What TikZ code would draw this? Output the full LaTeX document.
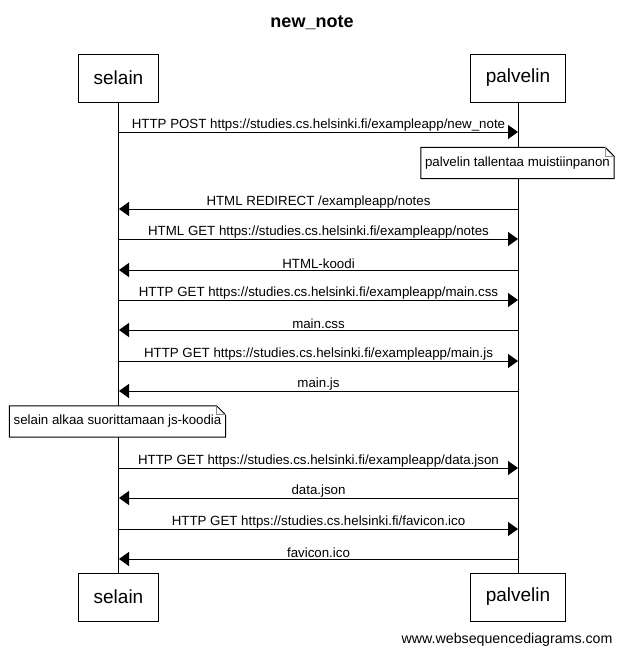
\documentclass[tikz,border=0pt]{standalone}
\usepackage{fontspec}
\setmainfont{Liberation Sans}
\usetikzlibrary{arrows.meta}

\tikzset{
  actor/.style={draw, line width=1pt, fill=white, minimum height=48pt,
    inner xsep=15pt, font=\fontsize{19}{22}\selectfont},
  lifeline/.style={line width=1pt},
  msg/.style={line width=1pt, -{Triangle[length=10pt,width=14pt]}},
  msglabel/.style={midway, above, inner sep=0.5pt, font=\fontsize{13.3}{15}\selectfont},
  notetext/.style={minimum height=31pt, inner xsep=4pt, font=\fontsize{13.3}{15}\selectfont},
  notebox/.style={draw, line width=1pt, fill=white},
  fold/.style={draw=black!45, line width=0.8pt}
}

\begin{document}
\begin{tikzpicture}[x=1pt,y=-1pt]

    \useasboundingbox (0,0) rectangle (624,656);

    % otsikko
    \node[font=\bfseries\fontsize{18}{20}\selectfont] (title) at (312,23) {new\_note};

    % osapuolet ylhaalla
    \node[actor] (selaintop) at (118.5,78) {selain};
    \node[actor] (palvelintop) at (518,78) {palvelin};

    % osapuolet alhaalla
    \node[actor] (selainbot) at (118.5,597) {selain};
    \node[actor] (palvelinbot) at (518,597) {palvelin};

    % elamanlangat
    \draw[lifeline] (selaintop.south) -- (selainbot.north);
    \draw[lifeline] (palvelintop.south) -- (palvelinbot.north);

    % pisteet elamanlangoilla
    \coordinate (s1) at (119,132);   \coordinate (p1) at (518,132);
    \coordinate (s2) at (119,209);   \coordinate (p2) at (518,209);
    \coordinate (s3) at (119,239);   \coordinate (p3) at (518,239);
    \coordinate (s4) at (119,270);   \coordinate (p4) at (518,270);
    \coordinate (s5) at (119,300);   \coordinate (p5) at (518,300);
    \coordinate (s6) at (119,330);   \coordinate (p6) at (518,330);
    \coordinate (s7) at (119,361);   \coordinate (p7) at (518,361);
    \coordinate (s8) at (119,391);   \coordinate (p8) at (518,391);
    \coordinate (s9) at (119,468);   \coordinate (p9) at (518,468);
    \coordinate (s10) at (119,498);  \coordinate (p10) at (518,498);
    \coordinate (s11) at (119,529);  \coordinate (p11) at (518,529);
    \coordinate (s12) at (119,559);  \coordinate (p12) at (518,559);

    % viestit
    \draw[msg] (s1) -- (p1) node[msglabel] {HTTP POST https://studies.cs.helsinki.fi/exampleapp/new\_note};

    % muistiinpano palvelimella
    \node[notetext] (note1) at (517.5,163) {palvelin tallentaa muistiinpanon};
    \draw[notebox] (note1.north west) -- ([xshift=-9pt]note1.north east) -- ([yshift=-9pt]note1.north east)
        -- (note1.south east) -- (note1.south west) -- cycle;
    \draw[fold] ([xshift=-9pt]note1.north east) -- ([xshift=-9pt,yshift=-9pt]note1.north east) -- ([yshift=-9pt]note1.north east);
    \node[notetext] at (note1) {palvelin tallentaa muistiinpanon};

    \draw[msg] (p2) -- (s2) node[msglabel] {HTML REDIRECT /exampleapp/notes};
    \draw[msg] (s3) -- (p3) node[msglabel] {HTML GET https://studies.cs.helsinki.fi/exampleapp/notes};
    \draw[msg] (p4) -- (s4) node[msglabel] {HTML-koodi};
    \draw[msg] (s5) -- (p5) node[msglabel] {HTTP GET https://studies.cs.helsinki.fi/exampleapp/main.css};
    \draw[msg] (p6) -- (s6) node[msglabel] {main.css};
    \draw[msg] (s7) -- (p7) node[msglabel] {HTTP GET https://studies.cs.helsinki.fi/exampleapp/main.js};
    \draw[msg] (p8) -- (s8) node[msglabel] {main.js};

    % muistiinpano selaimella
    \node[notetext] (note2) at (117.5,421.5) {selain alkaa suorittamaan js-koodia};
    \draw[notebox] (note2.north west) -- ([xshift=-9pt]note2.north east) -- ([yshift=-9pt]note2.north east)
        -- (note2.south east) -- (note2.south west) -- cycle;
    \draw[fold] ([xshift=-9pt]note2.north east) -- ([xshift=-9pt,yshift=-9pt]note2.north east) -- ([yshift=-9pt]note2.north east);
    \node[notetext] at (note2) {selain alkaa suorittamaan js-koodia};

    \draw[msg] (s9) -- (p9) node[msglabel] {HTTP GET https://studies.cs.helsinki.fi/exampleapp/data.json};
    \draw[msg] (p10) -- (s10) node[msglabel] {data.json};
    \draw[msg] (s11) -- (p11) node[msglabel] {HTTP GET https://studies.cs.helsinki.fi/favicon.ico};
    \draw[msg] (p12) -- (s12) node[msglabel] {favicon.ico};

    % vesileima
    \node[anchor=east, font=\fontsize{14.2}{16}\selectfont] (wsd) at (616,640) {www.websequencediagrams.com};

\end{tikzpicture}
\end{document}
